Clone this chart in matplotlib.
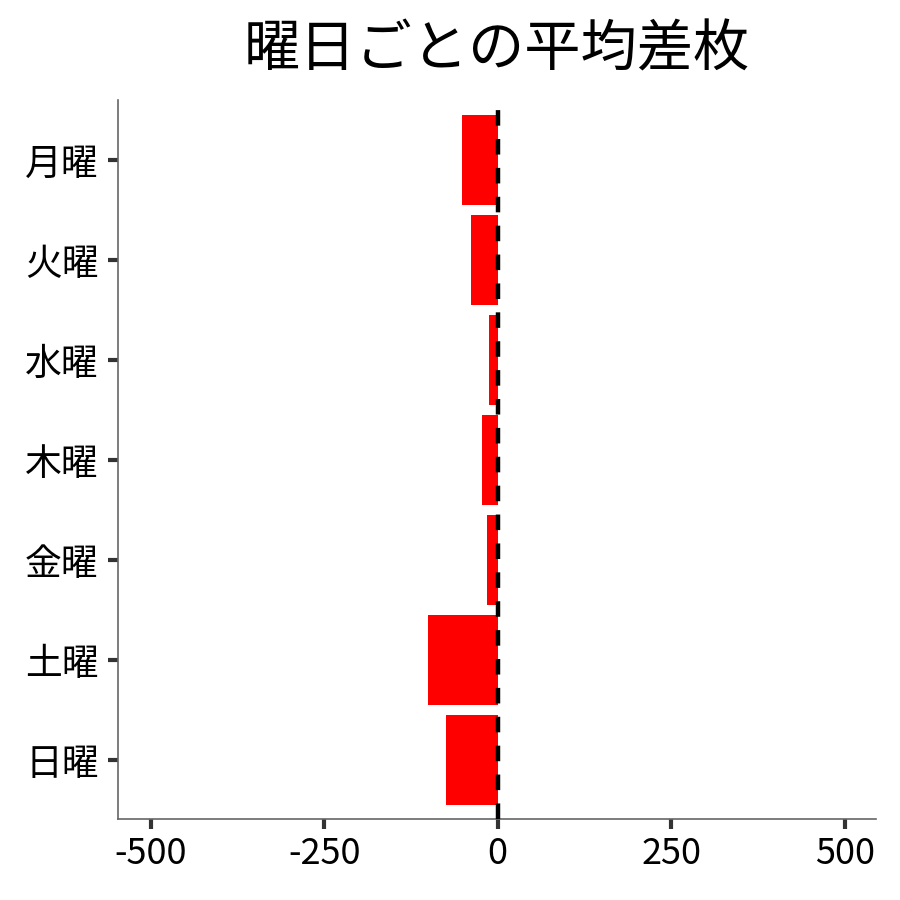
import matplotlib
matplotlib.use("Agg")
import matplotlib.pyplot as plt

plt.rcParams['font.family'] = ['Noto Sans CJK JP', 'DejaVu Sans']

days = ["月曜", "火曜", "水曜", "木曜", "金曜", "土曜", "日曜"]
avg_diff = [-51, -38, -12, -22, -15, -100, -74]
xticks = [-500, -250, 0, 250, 500]
xtick_labels = ["-500", "-250", "0", "250", "500"]

fig = plt.figure(figsize=(9, 9), dpi=100)
ax = fig.add_axes([118/900, 1 - 819/900, (876-118)/900, (819-100)/900])

ypos = list(range(len(days)))
ax.barh(ypos, avg_diff, height=0.9, color="#ff0000", zorder=2)
ax.axvline(0, color="black", linestyle=(0, (3.5, 3)), linewidth=3.2, zorder=3)

ax.set_yticks(ypos)
ax.set_yticklabels(days, fontsize=26.5)
ax.set_xticks(xticks)
ax.set_xticklabels(xtick_labels, fontsize=26)
ax.set_xlim(-547, 545)
ax.set_ylim(6.59, -0.6)

for s in ["top", "right"]:
    ax.spines[s].set_visible(False)
for s in ["left", "bottom"]:
    ax.spines[s].set_color("#666666")
    ax.spines[s].set_linewidth(1.2)
ax.tick_params(axis="both", length=7, width=3, color="#333333", pad=5)
ax.tick_params(axis="y", pad=7)

ax.set_title("曜日ごとの平均差枚", fontsize=40.5, pad=24)

fig.savefig("out.png", dpi=100)
